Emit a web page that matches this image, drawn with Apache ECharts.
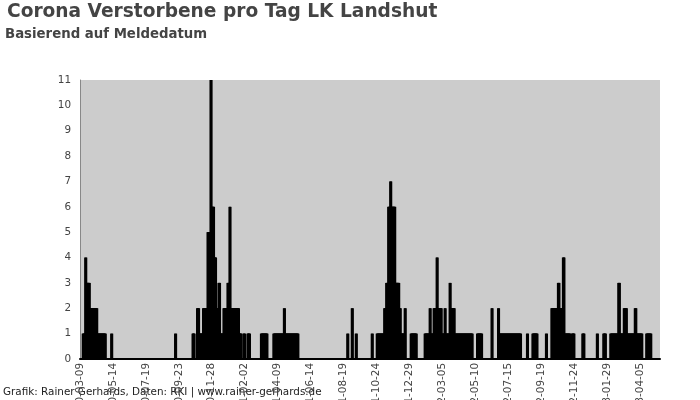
<!DOCTYPE html>
<html>
<head>
<meta charset="utf-8">
<script src="https://cdn.jsdelivr.net/npm/echarts@6/dist/echarts.min.js"></script>
<style>
  html, body { margin: 0; padding: 0; background: #fff; }
  #chart { width: 700px; height: 400px; }
</style>
</head>
<body>
<div id="chart"></div>
<script>
// Reporting period shown on the x axis
const firstDay = '2020-03-09';
const lastDay = '2023-05-15';

// Daily deaths by reporting date, one list per stretch of reports
const spring2020Start = '2020-03-15';
const spring2020 = [
  1,1,1,1,1, 4,4, 3,3,3,3,3,3,3,
  2,2,2,2,2,2,2,2,2,2,2,2,2,2,2,
  1,1,1,1,1,1,1,1,1,1,1,1,1,1,1,1,1,
  0,0,0,0,0,0,0,0,0,0,0, 1,1
];

const sept2020Start = '2020-09-16';
const sept2020 = [1,1];

const winter2020Start = '2020-10-21';
const winter2020 = [
  1,1,1,1, 0,0,0,0,0, 2,2,2,2, 1,1,1,1,1,1,1,1,
  2,2,2,2,2,2,2,2,2, 5,5,5,5,5,5, 11,11, 6,6,6,6,6, 4,4,4,4,
  2,2,2,2,2, 3,3,3, 1,1,1,1,1,1,1, 2,2,2,2,2,2,2,2, 3,3,3,3, 6,6,
  2,2,2,2,2,2,2,2,2,2,2,2,2,2,2,2,2,
  1,1,1,1,1, 0,0,0,0, 1,1,1, 0,0,0,0,0, 1,1,1,1,1
];

const spring2021Start = '2021-03-07';
const spring2021 = [
  1,1,1,1,1,1,1,1,1,1,1,1,1,
  0,0,0,0,0,0,0,0,0,0,0,0,
  1,1,1,1,1,1,1,1,1,1,1,1,1,1,1,1,1,1,1,1,1, 2,2,
  1,1,1,1,1,1,1,1,1,1,1,1,1,1,1,1,1,1,1,1,1,1,1,1,1,1,1
];

const aug2021Start = '2021-08-27';
const aug2021 = [1,1, 0,0,0,0,0,0,0, 2,2, 0,0,0,0,0,0, 1,1];

const oct2021Start = '2021-10-15';
const oct2021 = [1,1];

const winter2021Start = '2021-10-25';
const winter2021 = [
  1,1,1,1,1,1,1,1,1,1,1,1,1,1,1,
  2,2,2,2, 3,3,3,3, 6,6,6,6, 7,7, 6,6,6,6,6,6,6,6,
  3,3,3,3,3,3,3,3, 2,2,2, 1,1,1,1,1,1,1,1, 2,2,
  0,0,0,0,0,0,0,0,0,0,
  1,1,1,1,1,1,1,1,1,1,1,1
];

const spring2022Start = '2022-01-29';
const spring2022 = [
  1,1,1,1,1,1,1,1,1,1, 2,2, 1,1,1,1,1,1, 2,2,2,2,2,2, 4,4,
  2,2,2,2,2,2,2,2, 1,1,1,1,1,1, 2,2, 1,1,1,1,1,1,1,1, 3,3,
  2,2,2,2,2,2,2,2,
  1,1,1,1,1,1,1,1,1,1,1,1,1,1,1,1,1,1,1,1,1,1,1,1,1,1,1,1,1,1,1,1,1,1,1,1,
  0,0,0,0,0,0,0,0,0,
  1,1,1,1,1,1,1,1,1,1
];

const summer2022Start = '2022-06-12';
const summer2022 = [
  2,2, 0,0,0,0,0,0,0,0,0,0,0, 2,2,
  1,1,1,1,1,1,1,1,1,1,1,1,1,1,1,1,1,1,1,1,1,1,
  1,1,1,1,1,1,1,1,1,1,1,1,1,1,1,1,1,1,1,1,1,1,
  0,0,0,0,0,0,0,0,0,0,0,0, 1,1
];

const autumn2022Start = '2022-09-02';
const autumn2022 = [
  1,1,1,1,1,1,1,1,1,1,
  0,0,0,0,0,0,0,0,0,0,0,0,0,0,0,0,0, 1,1,
  0,0,0,0,0,0,0,0,0,
  2,2,2,2,2,2,2,2,2,2,2,2,2, 3,3,3, 2,2,2,2,2,2,2, 4,4,4,
  1,1,1,1,1,1,1,1,1,1,1,1, 0,0,0, 1,1,1,1,1,
  0,0,0,0,0,0,0,0,0,0,0,0,0,0,0,0, 1,1,1,1
];

const early2023Start = '2023-01-09';
const early2023 = [
  1,1, 0,0,0,0,0,0,0,0,0,0,0, 1,1,1,1,1, 0,0,0,0,0,0,0,0,0,
  1,1,1,1,1,1,1,1,1,1,1,1,1,1,1,1, 3,3,3, 1,1,1,1,1,1,1,1,
  2,2,2,2,2,2, 1,1,1,1,1,1,1,1,1,1,1,1,1,1,1,1, 2,2,2,
  1,1,1,1,1,1,1,1,1,1,1,1, 0,0,0,0,0,0,0,0,
  1,1,1,1,1,1,1,1,1,1
];

const stretches = [
  [spring2020Start, spring2020], [sept2020Start, sept2020],
  [winter2020Start, winter2020], [spring2021Start, spring2021],
  [aug2021Start, aug2021], [oct2021Start, oct2021],
  [winter2021Start, winter2021], [spring2022Start, spring2022],
  [summer2022Start, summer2022], [autumn2022Start, autumn2022],
  [early2023Start, early2023]
];

function addDays(iso, n) {
  const d = new Date(iso + 'T00:00:00Z');
  d.setUTCDate(d.getUTCDate() + n);
  return d.toISOString().slice(0, 10);
}

// One category per calendar day; days without reports count as zero
const dates = [];
for (let d = firstDay; d <= lastDay; d = addDays(d, 1)) dates.push(d);
const deaths = dates.map(() => 0);
stretches.forEach(([start, values]) => {
  const offset = dates.indexOf(start);
  values.forEach((v, i) => { deaths[offset + i] = v; });
});

const font = 'DejaVu Sans';
const chart = echarts.init(document.getElementById('chart'), null, { renderer: 'canvas' });
chart.setOption({
  animation: false,
  backgroundColor: '#ffffff',
  title: [{
    text: 'Corona Verstorbene pro Tag LK Landshut',
    left: 7, top: 3, padding: 0,
    textStyle: { fontFamily: font, fontSize: 18.6, fontWeight: 'bold', color: '#444444' }
  }, {
    text: 'Basierend auf Meldedatum',
    left: 5, top: 28, padding: 0,
    textStyle: { fontFamily: font, fontSize: 13.3, fontWeight: 'bold', color: '#444444' }
  }],
  grid: {
    left: 80, right: 40, top: 80, bottom: 41,
    outerBoundsMode: 'none',
    containLabel: false,
    show: true, backgroundColor: '#cccccc', borderWidth: 0
  },
  xAxis: {
    type: 'category',
    data: dates,
    boundaryGap: false,
    axisLine: { lineStyle: { color: '#000000', width: 2 } },
    axisTick: { show: false },
    axisLabel: {
      interval: 65, rotate: 90, margin: 4,
      fontFamily: font, fontSize: 10.4, color: '#444444'
    },
    splitLine: { show: false }
  },
  yAxis: {
    type: 'value',
    min: 0, max: 11, interval: 1,
    axisLine: { show: true, lineStyle: { color: '#888888', width: 1 } },
    axisTick: { show: false },
    axisLabel: { margin: 9, fontFamily: font, fontSize: 10.4, color: '#444444' },
    splitLine: { show: false }
  },
  series: [{
    type: 'bar',
    data: deaths,
    silent: true,
    barWidth: 2.6,
    itemStyle: { color: '#000000' }
  }],
  graphic: [{
    type: 'text',
    left: 3,
    top: 387,
    style: {
      text: 'Grafik: Rainer Gerhards, Daten: RKI | www.rainer-gerhards.de',
      fontFamily: font, fontSize: 10.4, fill: '#222222'
    }
  }]
});
</script>
</body>
</html>
